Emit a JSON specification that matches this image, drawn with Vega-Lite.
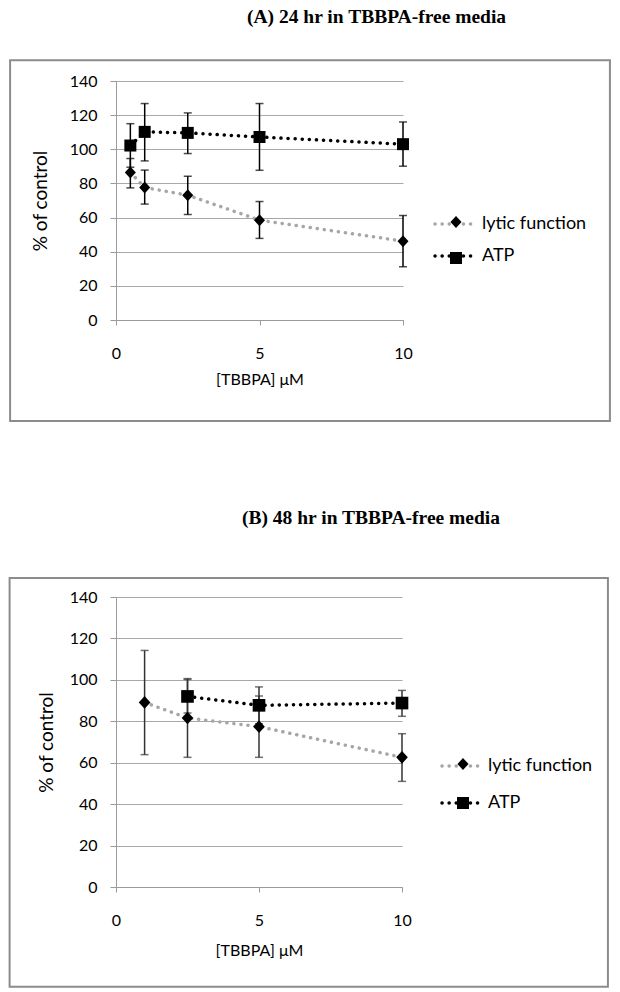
{
  "$schema": "https://vega.github.io/schema/vega-lite/v6.json",
  "padding": {"left": 8, "top": 6, "right": 0, "bottom": 0},
  "background": "white",
  "config": {
    "view": {"stroke": null},
    "font": "Lato",
    "axis": {
      "labelFont": "Lato", "labelFontSize": 16, "labelColor": "#000000",
      "titleFont": "Lato", "titleFontSize": 16, "titleFontWeight": "normal", "titleColor": "#000000",
      "domainColor": "#9a9a9a", "tickColor": "#9a9a9a", "gridColor": "#a8a8a8", "gridWidth": 1
    },
    "axisY": {"grid": true, "tickSize": 6, "labelPadding": 13, "titleFontSize": 19},
    "axisX": {"grid": false, "tickSize": 5, "labelPadding": 20, "labelFlush": false},
    "legend": {"labelFont": "Lato", "labelFontSize": 18, "labelColor": "#000000", "padding": 0},
    "title": {"font": "Liberation Serif", "fontWeight": "bold", "fontSize": 19.5, "color": "#000000"}
  },
  "resolve": {
    "scale": {"color": "independent", "shape": "independent"},
    "legend": {"color": "independent", "shape": "independent"}
  },
  "datasets": {
    "A": [
      {"conc": 0.5, "series": "lytic function", "value": 86.4, "lo": 77.4, "hi": 94.6},
      {"conc": 1, "series": "lytic function", "value": 77.6, "lo": 67.9, "hi": 87.8},
      {"conc": 2.5, "series": "lytic function", "value": 73.1, "lo": 61.8, "hi": 84.2},
      {"conc": 5, "series": "lytic function", "value": 58.5, "lo": 47.8, "hi": 69.4},
      {"conc": 10, "series": "lytic function", "value": 46.2, "lo": 31.2, "hi": 61.2},
      {"conc": 0.5, "series": "ATP", "value": 102.2, "lo": 89.5, "hi": 115},
      {"conc": 1, "series": "ATP", "value": 110.2, "lo": 93.2, "hi": 126.8},
      {"conc": 2.5, "series": "ATP", "value": 109.6, "lo": 97.5, "hi": 121.3},
      {"conc": 5, "series": "ATP", "value": 107.2, "lo": 87.7, "hi": 126.8},
      {"conc": 10, "series": "ATP", "value": 103, "lo": 90.1, "hi": 116}
    ],
    "B": [
      {"conc": 1, "series": "lytic function", "value": 89.1, "lo": 63.9, "hi": 114.2},
      {"conc": 2.5, "series": "lytic function", "value": 81.6, "lo": 62.6, "hi": 100.6},
      {"conc": 5, "series": "lytic function", "value": 77.4, "lo": 62.6, "hi": 92.2},
      {"conc": 10, "series": "lytic function", "value": 62.6, "lo": 51, "hi": 74},
      {"conc": 2.5, "series": "ATP", "value": 92, "lo": 84, "hi": 100.2},
      {"conc": 5, "series": "ATP", "value": 87.7, "lo": 78.8, "hi": 96.6},
      {"conc": 10, "series": "ATP", "value": 88.8, "lo": 82.4, "hi": 94.9}
    ]
  },
  "spacing": 86,
  "vconcat": [
    {
      "width": 287,
      "height": 239,
      "title": {"text": "(A) 24 hr in TBBPA-free media", "anchor": "start", "frame": "group", "dx": 131, "offset": 32},
      "layer": [
        {
          "data": {"values": [{}]},
          "mark": {"type": "rect", "fill": null, "stroke": "#8c8c8c", "strokeWidth": 2},
          "encoding": {
            "x": {"datum": -3.69, "type": "quantitative", "scale": {"domain": [0, 10], "nice": false}, "title": "[TBBPA] μM", "axis": {"values": [0, 5, 10], "tickCount": 10, "titlePadding": 10}},
            "x2": {"datum": 17.21},
            "y": {"datum": 152.1, "type": "quantitative", "scale": {"domain": [0, 140], "nice": false}, "title": "% of control", "axis": {"values": [0, 20, 40, 60, 80, 100, 120, 140], "tickCount": 10, "titlePadding": 19}},
            "y2": {"datum": -59.1}
          }
        },
        {
          "data": {"name": "A"},
          "mark": {"type": "line", "strokeWidth": 3.5, "strokeDash": [0.1, 7], "strokeCap": "round"},
          "encoding": {
            "x": {"field": "conc", "type": "quantitative", "title": "[TBBPA] μM"},
            "y": {"field": "value", "type": "quantitative", "title": "% of control"},
            "color": {
              "field": "series", "type": "nominal",
              "scale": {"domain": ["lytic function", "ATP"], "range": ["#a6a6a6", "#000000"]},
              "legend": {
                "title": null, "orient": "none", "legendX": 317, "legendY": 121,
                "symbolType": "stroke", "symbolSize": 1600, "symbolStrokeWidth": 3.5, "symbolDash": [0.1, 7],
                "labelOffset": 5, "rowPadding": 1,
                "encode": {"symbols": {"update": {"strokeCap": {"value": "round"}}}}
              }
            }
          }
        },
        {
          "data": {"name": "A"},
          "mark": {"type": "rule", "strokeWidth": 1.5, "color": "#000000"},
          "encoding": {
            "x": {"field": "conc", "type": "quantitative", "title": "[TBBPA] μM"},
            "y": {"field": "lo", "type": "quantitative", "title": "% of control"},
            "y2": {"field": "hi"}
          }
        },
        {
          "data": {"name": "A"},
          "mark": {"type": "tick", "orient": "horizontal", "size": 8, "thickness": 1.5, "color": "#000000"},
          "encoding": {
            "x": {"field": "conc", "type": "quantitative", "title": "[TBBPA] μM"},
            "y": {"field": "lo", "type": "quantitative", "title": "% of control"}
          }
        },
        {
          "data": {"name": "A"},
          "mark": {"type": "tick", "orient": "horizontal", "size": 8, "thickness": 1.5, "color": "#000000"},
          "encoding": {
            "x": {"field": "conc", "type": "quantitative", "title": "[TBBPA] μM"},
            "y": {"field": "hi", "type": "quantitative", "title": "% of control"}
          }
        },
        {
          "data": {"name": "A"},
          "mark": {"type": "point", "filled": true, "color": "#000000", "opacity": 1, "size": 144},
          "encoding": {
            "x": {"field": "conc", "type": "quantitative", "title": "[TBBPA] μM"},
            "y": {"field": "value", "type": "quantitative", "title": "% of control"},
            "shape": {
              "field": "series", "type": "nominal", "sort": "descending",
              "scale": {"range": ["M0,-1L0.92,0L0,1L-0.92,0Z", "M-1,-1H1V1H-1Z"]},
              "legend": {
                "title": null, "orient": "none", "legendX": 331, "legendY": 132,
                "symbolSize": 144, "symbolFillColor": "#000000", "symbolStrokeWidth": 0,
                "labelExpr": "''", "labelOffset": 0, "rowPadding": 18
              }
            }
          }
        }
      ]
    },
    {
      "width": 286,
      "height": 290,
      "title": {"text": "(B) 48 hr in TBBPA-free media", "anchor": "start", "frame": "group", "dx": 126, "offset": 48},
      "layer": [
        {
          "data": {"values": [{}]},
          "mark": {"type": "rect", "fill": null, "stroke": "#8c8c8c", "strokeWidth": 2},
          "encoding": {
            "x": {"datum": -3.72, "type": "quantitative", "scale": {"domain": [0, 10], "nice": false}, "title": "[TBBPA] μM", "axis": {"values": [0, 5, 10], "tickCount": 10, "titlePadding": 14}},
            "x2": {"datum": 17.2},
            "y": {"datum": 149.2, "type": "quantitative", "scale": {"domain": [0, 140], "nice": false}, "title": "% of control", "axis": {"values": [0, 20, 40, 60, 80, 100, 120, 140], "tickCount": 10, "titlePadding": 13}},
            "y2": {"datum": -48.1}
          }
        },
        {
          "data": {"name": "B"},
          "mark": {"type": "line", "strokeWidth": 3.5, "strokeDash": [0.1, 7], "strokeCap": "round"},
          "encoding": {
            "x": {"field": "conc", "type": "quantitative", "title": "[TBBPA] μM"},
            "y": {"field": "value", "type": "quantitative", "title": "% of control"},
            "color": {
              "field": "series", "type": "nominal",
              "scale": {"domain": ["lytic function", "ATP"], "range": ["#a6a6a6", "#000000"]},
              "legend": {
                "title": null, "orient": "none", "legendX": 324, "legendY": 147,
                "symbolType": "stroke", "symbolSize": 1600, "symbolStrokeWidth": 3.5, "symbolDash": [0.1, 7],
                "labelOffset": 4, "rowPadding": 6,
                "encode": {"symbols": {"update": {"strokeCap": {"value": "round"}}}}
              }
            }
          }
        },
        {
          "data": {"name": "B"},
          "mark": {"type": "rule", "strokeWidth": 1.5, "color": "#333333"},
          "encoding": {
            "x": {"field": "conc", "type": "quantitative", "title": "[TBBPA] μM"},
            "y": {"field": "lo", "type": "quantitative", "title": "% of control"},
            "y2": {"field": "hi"}
          }
        },
        {
          "data": {"name": "B"},
          "mark": {"type": "tick", "orient": "horizontal", "size": 8, "thickness": 1.5, "color": "#333333"},
          "encoding": {
            "x": {"field": "conc", "type": "quantitative", "title": "[TBBPA] μM"},
            "y": {"field": "lo", "type": "quantitative", "title": "% of control"}
          }
        },
        {
          "data": {"name": "B"},
          "mark": {"type": "tick", "orient": "horizontal", "size": 8, "thickness": 1.5, "color": "#333333"},
          "encoding": {
            "x": {"field": "conc", "type": "quantitative", "title": "[TBBPA] μM"},
            "y": {"field": "hi", "type": "quantitative", "title": "% of control"}
          }
        },
        {
          "data": {"name": "B"},
          "mark": {"type": "point", "filled": true, "color": "#000000", "opacity": 1, "size": 160},
          "encoding": {
            "x": {"field": "conc", "type": "quantitative", "title": "[TBBPA] μM"},
            "y": {"field": "value", "type": "quantitative", "title": "% of control"},
            "shape": {
              "field": "series", "type": "nominal", "sort": "descending",
              "scale": {"range": ["M0,-1L0.92,0L0,1L-0.92,0Z", "M-1,-1H1V1H-1Z"]},
              "legend": {
                "title": null, "orient": "none", "legendX": 338, "legendY": 158,
                "symbolSize": 144, "symbolFillColor": "#000000", "symbolStrokeWidth": 0,
                "labelExpr": "''", "labelOffset": 0, "rowPadding": 21
              }
            }
          }
        }
      ]
    }
  ]
}
